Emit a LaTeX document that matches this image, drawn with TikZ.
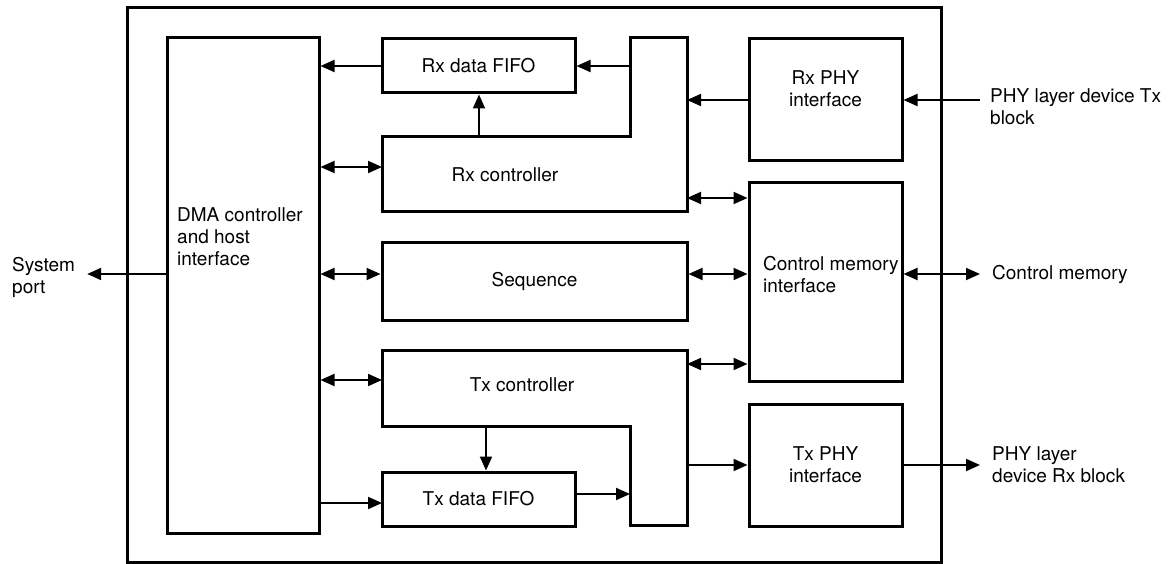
\documentclass[tikz,border=0pt]{standalone}
\usepackage{fontspec}
\setmainfont{TeX Gyre Heros}
\usepackage{tikz}
\usetikzlibrary{arrows.meta,positioning,calc}

\begin{document}
\begin{tikzpicture}[
  x=1pt, y=-1pt,
  box/.style 2 args={draw, line width=3pt, minimum width=#1, minimum height=#2,
              inner sep=0pt, align=center, font=\fontsize{19}{22}\selectfont},
  wall/.style={draw, line width=3pt},
  lbl/.style={inner sep=0pt, align=left, font=\fontsize{19}{22}\selectfont},
  arr/.style={-{Triangle[length=14pt,width=12pt]}, line width=2pt},
  darr/.style={{Triangle[length=14pt,width=12pt]}-{Triangle[length=14pt,width=12pt]}, line width=2pt}
]
\useasboundingbox (0,0) rectangle (1170,564);

%% ---- Frame and host side ----
\node[box={814}{555}]  (chip)   at (534,285)     {};
\node[box={152}{495}]  (dma)    at (243,285.5)   {};
\node[lbl, anchor=west] (dmat)  at (177,237)     {DMA controller\\and host\\interface};

%% ---- Receive path ----
\node[box={193}{54}]   (rxfifo) at (478.5,66)    {Rx data FIFO};
\draw[wall] (382,137) -- (630,137) -- (630,38) -- (687,38) -- (687,212) -- (382,212) -- cycle;
\node[lbl]             (rxc)    at (505,175)     {Rx controller};
\node[box={153}{122}]  (rxphy)  at (825.5,100)   {};
\node[lbl, align=center] (rxphyt) at (825.5,89)  {Rx PHY\\interface};

\coordinate (rxc-in)  at (630,66);
\coordinate (rxc-top) at (479,137);
\coordinate (rxc-w)   at (382,167);
\coordinate (rxc-e1)  at (687,100);
\coordinate (rxc-e2)  at (687,198);

%% ---- Middle row ----
\node[box={305}{77}]   (seq)    at (534.5,281.5) {Sequence};
\node[box={153}{198}]  (cmi)    at (825.5,282)   {};
\node[lbl, anchor=west] (cmit)  at (763,274.5)   {Control memory\\interface};
\coordinate (midrow) at (534,274);

%% ---- Transmit path ----
\draw[wall] (382,350) -- (687,350) -- (687,525) -- (630,525) -- (630,426) -- (382,426) -- cycle;
\node[lbl]             (txc)    at (522,385)     {Tx controller};
\node[box={193}{54}]   (txfifo) at (478.5,499)   {Tx data FIFO};
\node[box={153}{122}]  (txphy)  at (825.5,465)   {Tx PHY\\interface};

\coordinate (txc-w)   at (382,380);
\coordinate (txc-e1)  at (687,364);
\coordinate (txc-e2)  at (687,465);
\coordinate (txc-bot) at (486,426);
\coordinate (txc-in)  at (630,494);
\coordinate (txf-w)   at (382,503);

%% ---- Outside labels ----
\node[lbl, anchor=west] (sysport) at (12,277)   {System\\port};
\node[lbl, anchor=west] (phytx)   at (990,107)  {PHY layer device Tx\\block};
\node[lbl, anchor=west] (cmem)    at (992,274)  {Control memory};
\node[lbl, anchor=west] (phyrx)   at (992,465)  {PHY layer\\device Rx block};

%% Receive arrows
\draw[arr]  (rxfifo.west) -- (rxfifo.west -| dma.east);
\draw[arr]  (rxc-in) -- (rxfifo.east);
\draw[arr]  (rxc-top) -- (rxc-top |- rxfifo.south);
\draw[darr] (dma.east |- rxc-w) -- (rxc-w);
\draw[arr]  (rxphy.west) -- (rxc-e1);
\draw[arr, shorten <=10pt] (phytx.west |- rxphy.east) -- (rxphy.east);
\draw[darr] (rxc-e2) -- (cmi.west |- rxc-e2);

%% Middle arrows
\draw[darr] (dma.east |- midrow) -- (seq.west |- midrow);
\draw[darr] (seq.east |- midrow) -- (cmi.west |- midrow);
\draw[darr, shorten >=12pt] (cmi.east |- midrow) -- (cmem.west |- midrow);
\draw[arr, shorten >=12pt]  (dma.west |- midrow) -- (sysport.east |- midrow);

%% Transmit arrows
\draw[darr] (dma.east |- txc-w) -- (txc-w);
\draw[darr] (txc-e1) -- (cmi.west |- txc-e1);
\draw[arr]  (txc-bot) -- (txc-bot |- txfifo.north);
\draw[arr]  (dma.east |- txf-w) -- (txf-w);
\draw[arr]  (txfifo.east |- txc-in) -- (txc-in);
\draw[arr]  (txc-e2) -- (txphy.west);
\draw[arr, shorten >=12pt] (txphy.east) -- (phyrx.west |- txphy.east);

\end{tikzpicture}
\end{document}
